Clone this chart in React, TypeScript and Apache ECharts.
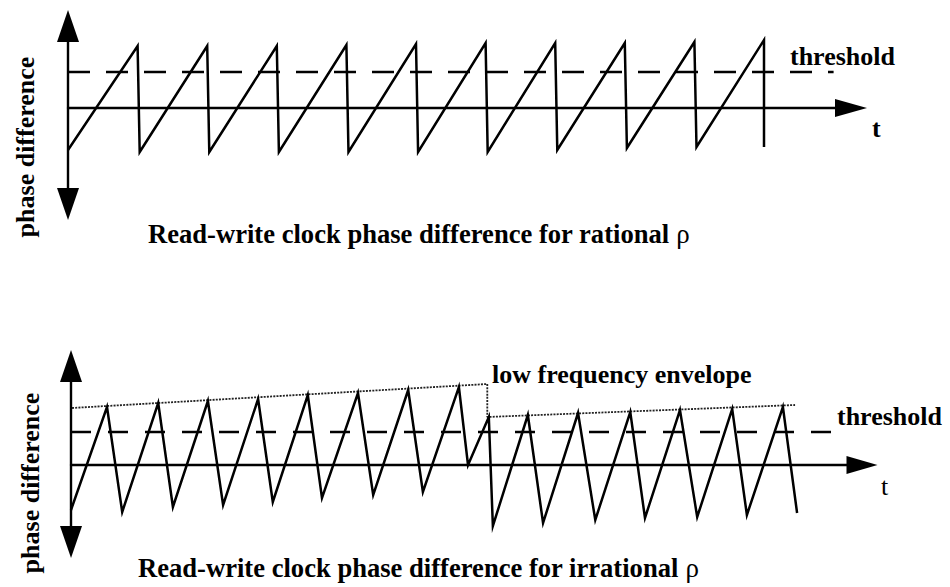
import React, { useEffect, useRef } from "react";
import * as echarts from "echarts";

// Upper panel: rational rho — clean sawtooth (t in units of one slip period)
const rationalT = [0, 1, 1.03, 2, 2.03, 3, 3.03, 4, 4.03, 5, 5.03, 6, 6.03, 7, 7.03, 8, 8.03, 9, 9.03, 10, 10.0];
const rationalPhase = [-0.42, 0.62, -0.44, 0.62, -0.44, 0.62, -0.44, 0.63, -0.44, 0.64, -0.44, 0.65, -0.44, 0.65, -0.42, 0.65, -0.4, 0.66, -0.39, 0.68, -0.39];
const rationalThresholdT = [0, 11.0];
const rationalThreshold = 0.36;

// Lower panel: irrational rho — triangle wave riding on a slow envelope
const irrationalT = [0, 0.71, 1.01, 1.72, 2.01, 2.7, 3.0, 3.69, 3.98, 4.67, 4.95, 5.66, 5.96, 6.65, 6.94, 7.65, 7.83, 8.24, 8.32, 9.01, 9.31, 10.0, 10.34, 11.03, 11.32, 12.01, 12.35, 13.04, 13.33, 14.04, 14.32];
const irrationalPhase = [-0.45, 0.58, -0.47, 0.62, -0.42, 0.64, -0.4, 0.66, -0.37, 0.7, -0.33, 0.72, -0.3, 0.75, -0.27, 0.78, 0.0, 0.48, -0.61, 0.5, -0.58, 0.52, -0.55, 0.53, -0.53, 0.55, -0.52, 0.56, -0.5, 0.58, -0.48];
const envelopeT = [0.02, 8.21, 8.21, 14.28];
const envelopeLevel = [0.57, 0.81, 0.48, 0.6];
const irrationalThresholdT = [0, 15.07];
const irrationalThreshold = 0.33;

const pairs = (xs: number[], ys: number[]) => xs.map((x, i) => [x, ys[i]]);

const FONT = '"Liberation Serif", "Times New Roman", serif';

export default function App() {
  const ref = useRef<HTMLDivElement>(null);

  useEffect(() => {
    if (!ref.current) return;
    const chart = echarts.init(ref.current, null, { renderer: "svg" });

    const axisLine = (symbol: string[], size: number[]) => ({
      show: true,
      onZero: true,
      symbol,
      symbolSize: size,
      lineStyle: { color: "#000", width: 2.4 },
    });
    const bare = {
      axisTick: { show: false },
      axisLabel: { show: false },
      splitLine: { show: false },
    };

    const solid = { color: "#000", width: 2.5, join: "miter" as const, miterLimit: 6 };

    const label = (text: string, x: number, y: number, opts: any = {}) => ({
      type: "text",
      x,
      y,
      rotation: opts.rotation || 0,
      style: {
        text,
        fill: "#000",
        fontFamily: FONT,
        fontSize: opts.size || 26,
        fontWeight: opts.weight || "bold",
        align: opts.align || "left",
        verticalAlign: "middle",
        rich: opts.rich,
      },
    });

    const captionRich = {
      b: { fontFamily: FONT, fontSize: 26.6, fontWeight: "bold", fill: "#000" },
      r: { fontFamily: FONT, fontSize: 27, fontWeight: "normal", fill: "#000" },
    };

    chart.setOption({
      animation: false,
      backgroundColor: "#fff",
      grid: [
        { left: 68, top: 26, width: 783, height: 178 },
        { left: 71, top: 366, width: 791, height: 176 },
      ],
      xAxis: [
        { type: "value", gridIndex: 0, min: 0, max: 11.25, axisLine: axisLine(["none", "triangle"], [18, 32]), ...bare },
        { type: "value", gridIndex: 1, min: 0, max: 15.6, axisLine: axisLine(["none", "triangle"], [18, 31]), ...bare },
      ],
      yAxis: [
        { type: "value", gridIndex: 0, min: -0.96, max: 0.82, axisLine: axisLine(["triangle", "triangle"], [22, 32]), ...bare },
        { type: "value", gridIndex: 1, min: -0.77, max: 0.99, axisLine: axisLine(["triangle", "triangle"], [22, 32]), ...bare },
      ],
      series: [
        {
          type: "line",
          xAxisIndex: 0,
          yAxisIndex: 0,
          data: pairs(rationalThresholdT, rationalThresholdT.map(() => rationalThreshold)),
          symbol: "none",
          lineStyle: { color: "#000", width: 2.4, type: [22, 16] },
        },
        {
          type: "line",
          xAxisIndex: 0,
          yAxisIndex: 0,
          data: pairs(rationalT, rationalPhase),
          symbol: "none",
          lineStyle: solid,
        },
        {
          type: "line",
          xAxisIndex: 1,
          yAxisIndex: 1,
          data: pairs(irrationalThresholdT, irrationalThresholdT.map(() => irrationalThreshold)),
          symbol: "none",
          lineStyle: { color: "#000", width: 2.4, type: [20, 17] },
        },
        {
          type: "line",
          xAxisIndex: 1,
          yAxisIndex: 1,
          data: pairs(envelopeT, envelopeLevel),
          symbol: "none",
          lineStyle: { color: "#222", width: 1.8, type: [2, 1.2] },
        },
        {
          type: "line",
          xAxisIndex: 1,
          yAxisIndex: 1,
          data: pairs(irrationalT, irrationalPhase),
          symbol: "none",
          lineStyle: solid,
        },
      ],
      graphic: [
        label("phase difference", 25, 147, { rotation: Math.PI / 2, align: "center" }),
        label("phase difference", 30, 483, { rotation: Math.PI / 2, align: "center" }),
        label("threshold", 790, 56),
        label("t", 872, 128),
        label("threshold", 837, 416),
        label("t", 881, 486, { weight: "normal" }),
        label("low frequency envelope", 492, 374),
        label("{b|Read-write clock phase difference for rational }{r|ρ}", 148, 234, { rich: captionRich }),
        label("{b|Read-write clock phase difference for irrational }{r|ρ}", 138, 568, { rich: captionRich }),
      ],
    });

    return () => chart.dispose();
  }, []);

  return (
    <div
      ref={ref}
      style={{ position: "fixed", left: 0, top: 0, width: 950, height: 587, background: "#fff" }}
    />
  );
}
